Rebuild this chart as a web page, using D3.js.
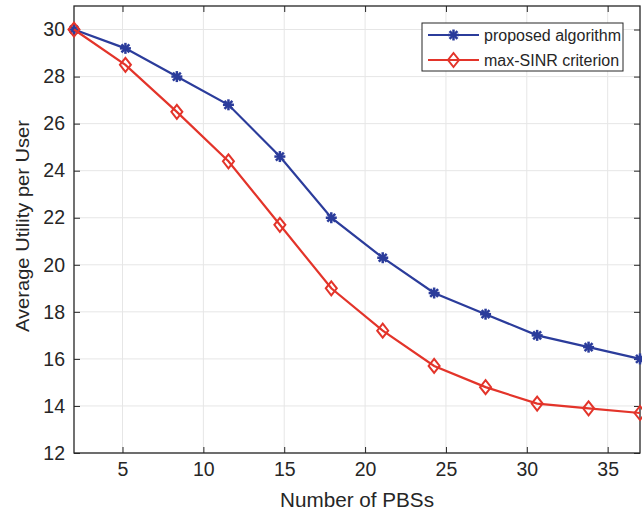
<!DOCTYPE html>
<html>
<head>
<meta charset="utf-8">
<script src="https://cdn.jsdelivr.net/npm/d3@7"></script>
<style>
  html, body { margin: 0; padding: 0; background: #fff; }
  svg { display: block; font-family: "Liberation Sans", Arial, Helvetica, sans-serif; }
</style>
</head>
<body>
<svg id="chart" width="642" height="514"></svg>
<script>
// Number of PBSs (x) and average utility per user for each scheme
const pbsCounts = [2, 5.18, 8.36, 11.55, 14.73, 17.91, 21.09, 24.27, 27.45, 30.64, 33.82, 37];
const proposedValues = [30, 29.2, 28, 26.8, 24.6, 22, 20.3, 18.8, 17.9, 17.0, 16.5, 16.0];
const maxSinrValues = [30, 28.5, 26.5, 24.4, 21.7, 19.0, 17.2, 15.7, 14.8, 14.1, 13.9, 13.7];
const xTicks = [5, 10, 15, 20, 25, 30, 35];
const yTicks = [12, 14, 16, 18, 20, 22, 24, 26, 28, 30];
const seriesNames = ["proposed algorithm", "max-SINR criterion"];

const svg = d3.select("#chart");
const margin = { left: 74, top: 6, right: 2, bottom: 61 };
const W = 642, H = 514;
const x = d3.scaleLinear().domain([2, 37]).range([margin.left, W - margin.right]);
const y = d3.scaleLinear().domain([12, 31]).range([H - margin.bottom, margin.top]);

const gridColor = "#e6e6e6";
const axisColor = "#262626";
const blue = "#2b3c9b";
const red = "#e3342a";

// grid lines
const grid = svg.append("g");
grid.selectAll(".gx").data(xTicks).join("line")
  .attr("x1", d => x(d)).attr("x2", d => x(d))
  .attr("y1", y.range()[1]).attr("y2", y.range()[0])
  .attr("stroke", gridColor).attr("stroke-width", 1);
grid.selectAll(".gy").data(yTicks).join("line")
  .attr("y1", d => y(d)).attr("y2", d => y(d))
  .attr("x1", x.range()[0]).attr("x2", x.range()[1])
  .attr("stroke", gridColor).attr("stroke-width", 1);

// axes with inward ticks (left/bottom labelled, top/right plain)
const tickLen = 6;
const bottomAxis = d3.axisBottom(x).tickValues(xTicks).tickSize(-tickLen).tickPadding(9).tickSizeOuter(0);
const leftAxis = d3.axisLeft(y).tickValues(yTicks).tickSize(-tickLen).tickPadding(9).tickSizeOuter(0);
const topAxis = d3.axisTop(x).tickValues(xTicks).tickSize(-tickLen).tickFormat("").tickSizeOuter(0);
const rightAxis = d3.axisRight(y).tickValues(yTicks).tickSize(-tickLen).tickFormat("").tickSizeOuter(0);

function styleAxis(g) {
  g.select(".domain").remove();
  g.selectAll(".tick line").attr("stroke", axisColor).attr("stroke-width", 1);
  g.selectAll(".tick text").attr("fill", "#262626").attr("font-size", 19.5)
    .attr("font-family", "'Liberation Sans', Arial, sans-serif");
}
svg.append("g").attr("transform", `translate(0,${y(12)})`).call(bottomAxis).call(styleAxis);
svg.append("g").attr("transform", `translate(${x(2)},0)`).call(leftAxis).call(styleAxis);
svg.append("g").attr("transform", `translate(0,${y(31)})`).call(topAxis).call(styleAxis);
svg.append("g").attr("transform", `translate(${x(37)},0)`).call(rightAxis).call(styleAxis);

// plot box
svg.append("rect")
  .attr("x", x(2)).attr("y", y(31))
  .attr("width", x(37) - x(2)).attr("height", y(12) - y(31))
  .attr("fill", "none").attr("stroke", axisColor).attr("stroke-width", 1.3);

// marker helpers
function asterisk(g, cx, cy, color, r) {
  const a = g.append("g").attr("transform", `translate(${cx},${cy})`)
    .attr("stroke", color).attr("stroke-width", 2.5).attr("stroke-linecap", "butt");
  const d = r * 0.72;
  a.append("line").attr("x1", -r).attr("x2", r).attr("y1", 0).attr("y2", 0);
  a.append("line").attr("x1", 0).attr("x2", 0).attr("y1", -r).attr("y2", r);
  a.append("line").attr("x1", -d).attr("x2", d).attr("y1", -d).attr("y2", d);
  a.append("line").attr("x1", -d).attr("x2", d).attr("y1", d).attr("y2", -d);
}
function diamond(g, cx, cy, color) {
  g.append("path")
    .attr("d", `M${cx},${cy - 7}L${cx + 5.5},${cy}L${cx},${cy + 7}L${cx - 5.5},${cy}Z`)
    .attr("fill", "none").attr("stroke", color).attr("stroke-width", 2);
}

const line = d3.line().x(d => x(d[0])).y(d => y(d[1]));
const plot = svg.append("g");

const proposedPts = pbsCounts.map((v, i) => [v, proposedValues[i]]);
const sinrPts = pbsCounts.map((v, i) => [v, maxSinrValues[i]]);

plot.append("path").datum(proposedPts).attr("d", line)
  .attr("fill", "none").attr("stroke", blue).attr("stroke-width", 2.2);
proposedPts.forEach(p => asterisk(plot, x(p[0]), y(p[1]), blue, 5.5));
plot.append("path").datum(sinrPts).attr("d", line)
  .attr("fill", "none").attr("stroke", red).attr("stroke-width", 2.2);
sinrPts.forEach(p => diamond(plot, x(p[0]), y(p[1]), red));

// axis titles
svg.append("text")
  .attr("x", 357).attr("y", 507)
  .attr("text-anchor", "middle").attr("font-size", 19.5).attr("fill", "#262626")
  .attr("textLength", 154).attr("lengthAdjust", "spacingAndGlyphs")
  .text("Number of PBSs");
svg.append("text")
  .attr("transform", `translate(29,226) rotate(-90)`)
  .attr("text-anchor", "middle").attr("font-size", 18).attr("fill", "#262626")
  .attr("textLength", 212).attr("lengthAdjust", "spacingAndGlyphs")
  .text("Average Utility per User");

// legend
const lg = svg.append("g");
lg.append("rect").attr("x", 422).attr("y", 23).attr("width", 201).attr("height", 48)
  .attr("fill", "#fff").attr("stroke", axisColor).attr("stroke-width", 1);
const colors = [blue, red];
seriesNames.forEach((name, i) => {
  const ly = 35 + i * 25;
  lg.append("line").attr("x1", 428).attr("x2", 479).attr("y1", ly).attr("y2", ly)
    .attr("stroke", colors[i]).attr("stroke-width", 2.2);
  if (i === 0) asterisk(lg, 453.5, ly, blue, 5.5); else diamond(lg, 453.5, ly, red);
  lg.append("text").attr("x", 484).attr("y", ly + 5.5)
    .attr("font-size", 16).attr("fill", "#262626").text(name);
});
</script>
</body>
</html>
